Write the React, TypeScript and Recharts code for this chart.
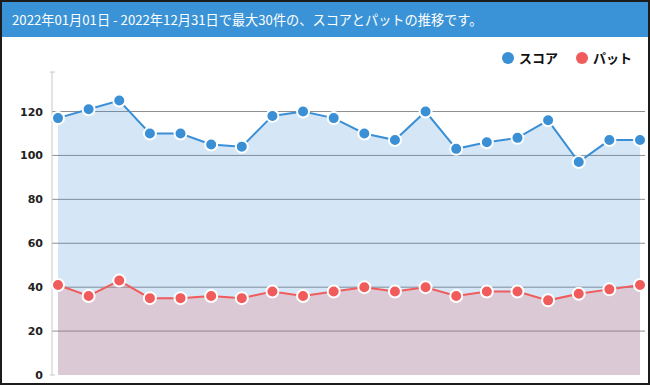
import { ComposedChart, Area, XAxis, YAxis, CartesianGrid } from 'recharts';

const rounds = ['1', '2', '3', '4', '5', '6', '7', '8', '9', '10', '11', '12', '13', '14', '15', '16', '17', '18', '19', '20'];
const scores = [117, 121, 125, 110, 110, 105, 104, 118, 120, 117, 110, 107, 120, 103, 106, 108, 116, 97, 107, 107];
const putts = [41, 36, 43, 35, 35, 36, 35, 38, 36, 38, 40, 38, 40, 36, 38, 38, 34, 37, 39, 41];
const yTicks = [0, 20, 40, 60, 80, 100, 120];
const yMax = 138;

const series = [
  { key: 'score', name: 'スコア', color: '#3a8fd5' },
  { key: 'putt', name: 'パット', color: '#f05c5c' },
];

const data = rounds.map((r, i) => ({ round: r, score: scores[i], putt: putts[i] }));

const YTick = (props: any) => {
  const { x, y, payload } = props;
  const v = payload.value;
  const ax = x + 9;
  return (
    <g>
      {(v === 0 || v === yMax) && (
        <line x1={ax - 5} x2={ax} y1={y} y2={y} stroke="#c8c8c8" strokeWidth={1} />
      )}
      {v !== yMax && (
        <text x={x - 3} y={y} dy={4} textAnchor="end" fontSize={11} fontWeight="bold" fill="#222"
          fontFamily="'DejaVu Sans', Verdana, sans-serif">
          {v}
        </text>
      )}
    </g>
  );
};

export default function App() {
  return (
    <div style={{
      position: 'absolute', left: 0, top: 0, width: 650, height: 385, boxSizing: 'border-box',
      border: '2px solid #1c1c1c', background: '#fff', overflow: 'hidden',
    }}>
      <div style={{
        height: 35, background: '#3a93d6', color: '#fff', fontSize: 13.2, lineHeight: '35px',
        paddingLeft: 10, fontFamily: "'Noto Sans CJK JP', 'Noto Sans', sans-serif",
      }}>
        2022年01月01日 - 2022年12月31日で最大30件の、スコアとパットの推移です。
      </div>

      <div style={{ position: 'relative', width: 646, height: 346 }}>
        {/* legend */}
        <div style={{
          position: 'absolute', top: 11, right: 16, display: 'flex', gap: 18, zIndex: 2,
          fontFamily: "'Noto Sans CJK JP', sans-serif", fontWeight: 'bold', fontSize: 13, color: '#111',
        }}>
          {series.map((s) => (
            <div key={s.key} style={{ display: 'flex', alignItems: 'center', gap: 5 }}>
              <span style={{ width: 12, height: 12, borderRadius: 6, background: s.color, display: 'inline-block' }} />
              <span>{s.name}</span>
            </div>
          ))}
        </div>

        <ComposedChart width={646} height={346} data={data} margin={{ top: 35, right: 3, left: 0, bottom: 8 }}>
          <CartesianGrid vertical={false} horizontalValues={[20, 40, 60, 80, 100, 120]} stroke="#8f8f8f" />
          <XAxis dataKey="round" tick={false} tickLine={false} height={0} padding={{ left: 6, right: 5 }}
            axisLine={{ stroke: '#c8c8c8' }} />
          <YAxis width={50} domain={[0, yMax]} ticks={[...yTicks, yMax]} interval={0} tickLine={false}
            axisLine={{ stroke: '#c8c8c8' }} tick={<YTick />} tickMargin={0} />
          {series.map((s) => (
            <Area
              key={s.key}
              type="linear"
              dataKey={s.key}
              name={s.name}
              stroke={s.color}
              strokeWidth={2}
              fill={s.color}
              fillOpacity={0.21}
              dot={{ r: 6, fill: s.color, stroke: '#fff', strokeWidth: 2, fillOpacity: 1 }}
              activeDot={false}
              isAnimationActive={false}
            />
          ))}
        </ComposedChart>
      </div>
    </div>
  );
}
